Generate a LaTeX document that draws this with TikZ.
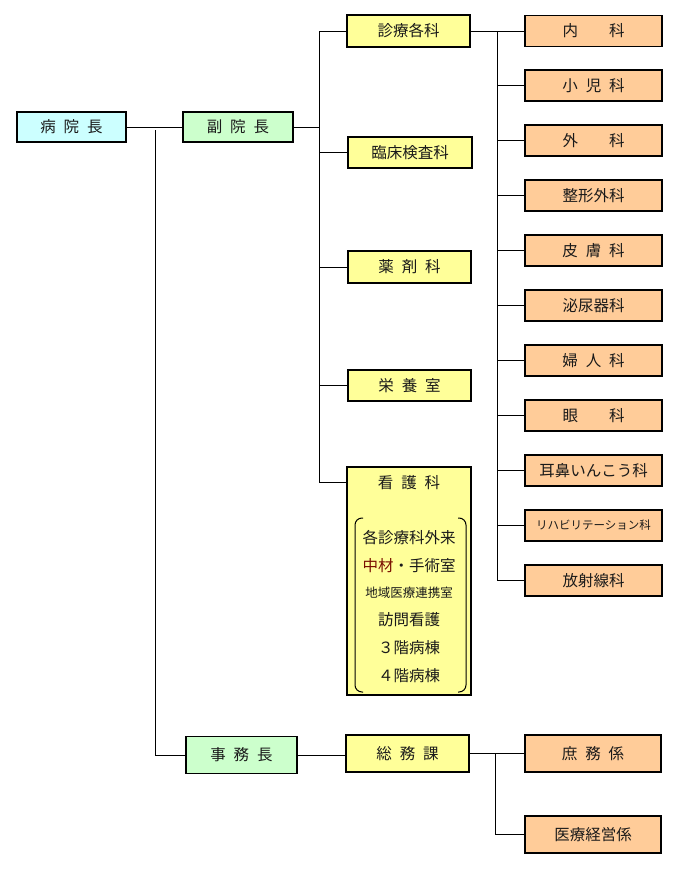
\documentclass[tikz,border=0pt]{standalone}
\usepackage{fontspec}
\setmainfont{Noto Sans CJK JP}[WordSpace=2.3]
\definecolor{cyanbox}{HTML}{CCFFFF}
\definecolor{greenbox}{HTML}{CCFFCC}
\definecolor{yellowbox}{HTML}{FFFF99}
\definecolor{peachbox}{HTML}{FFCC99}
\definecolor{txtcol}{HTML}{1A1A1A}
\definecolor{redtxt}{HTML}{7A1000}
\begin{document}
\begin{tikzpicture}[x=1pt,y=-1pt,
  every node/.style={inner sep=0pt, text=txtcol},
  box/.style={draw=black, line width=1.1pt, minimum height=31pt,
    font=\fontsize{15.5}{18}\selectfont},
  boss/.style={box, fill=cyanbox, minimum width=109pt, minimum height=30pt},
  vice/.style={box, fill=greenbox, minimum width=110pt, minimum height=30pt},
  dept/.style={box, fill=yellowbox, minimum width=123pt},
  sect/.style={box, fill=peachbox, minimum width=137pt},
  listtxt/.style={font=\fontsize{15.5}{18}\selectfont},
  conn/.style={draw=black, line width=0.9pt}]
\useasboundingbox (0,0) rectangle (679,870);

% top level
\node[boss] (byoin) at (71.5,127) {病 院 長};
\node[vice] (fuku) at (238,127) {副 院 長};
\node[vice, minimum width=111pt, minimum height=37pt] (jimu) at (241.5,755) {事 務 長};

% departments
\node[dept, minimum height=32pt] (shinryo) at (408.5,31) {診療各科};
\node[dept, minimum width=124pt] (rinsho) at (410,152.5) {臨床検査科};
\node[dept, minimum height=32pt] (yakuzai) at (409.5,267) {薬 剤 科};
\node[dept] (eiyo) at (409.5,385.5) {栄 養 室};
\node[dept, minimum width=124pt, minimum height=228pt] (kango) at (409,581) {};
\node[listtxt] (kangot) at (409,483) {看 護 科};
\node[dept, minimum height=37pt] (somu) at (407.5,753.5) {総 務 課};

% nursing list
\node[listtxt] (k1) at (409,538) {各診療科外来};
\node[listtxt] (k2) at (409,566) {{\color{redtxt}中材}・手術室};
\node[listtxt, font=\fontsize{12.5}{15}\selectfont] (k3) at (409,593) {地域医療連携室};
\node[listtxt] (k4) at (409,620) {訪問看護};
\node[listtxt] (k5) at (409,648) {３階病棟};
\node[listtxt] (k6) at (409,676) {４階病棟};
\draw[line width=1pt, rounded corners=7pt] (363,518) -- (355,518) -- (355,692) -- (363,692);
\draw[line width=1pt, rounded corners=7pt] (458,518) -- (466,518) -- (466,692) -- (458,692);

% sections
\node[sect] (naika) at (593.5,31) {内　　科};
\node[sect] (shoni) at (593.5,85.5) {小 児 科};
\node[sect] (geka) at (593.5,140.5) {外　　科};
\node[sect] (seikei) at (593.5,195.5) {整形外科};
\node[sect] (hifu) at (593.5,250.5) {皮 膚 科};
\node[sect] (hinyo) at (593.5,305.5) {泌尿器科};
\node[sect] (fujin) at (593.5,360.5) {婦 人 科};
\node[sect] (ganka) at (593.5,415.5) {眼　　科};
\node[sect] (jibi) at (593.5,470.5) {耳鼻いんこう科};
\node[sect, font=\fontsize{11.5}{14}\selectfont] (riha) at (593.5,525.5) {リハビリテーション科};
\node[sect] (hosha) at (593.5,580.5) {放射線科};
\node[sect, minimum width=136pt, minimum height=37pt] (shomu) at (593,753.5) {庶 務 係};
\node[sect, minimum width=136pt, minimum height=37pt] (iryo) at (593,834.5) {医療経営係};

% connectors
\draw[conn] (byoin.east) -- (fuku.west);
\coordinate (t1) at (155,130);
\draw[conn] (t1) |- (jimu.west);

\coordinate (t2a) at (319,31);
\coordinate (t2b) at (319,482);
\draw[conn] (t2a) -- (t2b);
\draw[conn] (fuku.east) -- (fuku.east -| t2a);
\foreach \n in {shinryo,rinsho,yakuzai,eiyo}
  \draw[conn] (t2a |- \n.west) -- (\n.west);
\draw[conn] (t2b) -- (t2b -| kango.west);

\draw[conn] (shinryo.east) -- (naika.west);
\coordinate (t3a) at (497,31);
\coordinate (t3b) at (497,580.5);
\draw[conn] (t3a) -- (t3b);
\foreach \n in {shoni,geka,seikei,hifu,hinyo,fujin,ganka,jibi,riha,hosha}
  \draw[conn] (t3a |- \n.west) -- (\n.west);

\draw[conn] (jimu.east) -- (jimu.east -| somu.west);
\draw[conn] (somu.east) -- (shomu.west);
\coordinate (t4a) at (495,753.5);
\draw[conn] (t4a) |- (iryo.west);
\end{tikzpicture}
\end{document}
